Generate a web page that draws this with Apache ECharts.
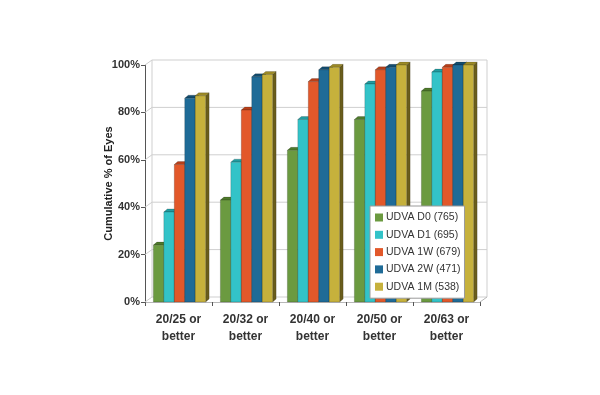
<!DOCTYPE html>
<html>
<head>
<meta charset="utf-8">
<script src="https://cdn.jsdelivr.net/npm/echarts@6/dist/echarts.min.js"></script>
<style>html,body{margin:0;padding:0;background:#fff;}#c{width:600px;height:395px;}</style>
</head>
<body>
<div id="c"></div>
<script>
var categories = ['20/25 or\nbetter', '20/32 or\nbetter', '20/40 or\nbetter', '20/50 or\nbetter', '20/63 or\nbetter'];
var seriesNames = ['UDVA D0 (765)', 'UDVA D1 (695)', 'UDVA 1W (679)', 'UDVA 2W (471)', 'UDVA 1M (538)'];
var d0 = [24, 43, 64, 77, 89];
var d1 = [38, 59, 77, 92, 97];
var w1 = [58, 81, 93, 98, 99];
var w2 = [86, 95, 98, 99, 100];
var m1 = [87, 96, 99, 100, 100];
var yTicks = [0, 20, 40, 60, 80, 100];

var colors = ['#6b9a40', '#33c3c8', '#e2582a', '#1f6b97', '#c6b13c'];
var tops = ['#4f7a2c', '#229ca0', '#b8401a', '#134d6f', '#9c8a26'];
var sides = ['#3e5a22', '#1a7073', '#7e2c12', '#0d3550', '#6a5d1c'];
var allData = [d0, d1, w1, w2, m1];
var DX = 3.5, DY = 3;

function barRender(si) {
  return function (params, api) {
    var cat = api.value(0), val = api.value(1);
    var catW = api.size([1, 0])[0];
    var bw = catW * 0.156;
    var c = api.coord([cat, val]);
    var b = api.coord([cat, 0]);
    var x0 = c[0] - 2.5 * bw + si * bw + 1;
    var yT = c[1], yB = b[1];
    var stroke = 'rgba(0,0,0,0.35)';
    return {
      type: 'group',
      children: [
        { type: 'polygon', shape: { points: [[x0 + bw, yT], [x0 + bw + DX, yT - DY], [x0 + bw + DX, yB - DY], [x0 + bw, yB]] },
          style: { fill: sides[si], stroke: stroke, lineWidth: 0.5 } },
        { type: 'polygon', shape: { points: [[x0, yT], [x0 + bw, yT], [x0 + bw + DX, yT - DY], [x0 + DX, yT - DY]] },
          style: { fill: tops[si], stroke: stroke, lineWidth: 0.5 } },
        { type: 'rect', shape: { x: x0, y: yT, width: bw, height: yB - yT },
          style: { fill: colors[si], stroke: stroke, lineWidth: 0.5 } }
      ]
    };
  };
}

var WX = 7, WY = 5;
function wallRender(params, api) {
  var v = api.value(0);
  var cs = params.coordSys;
  var p = api.coord([0, v]);
  var y = p[1];
  var left = cs.x, right = cs.x + cs.width;
  var children = [
    { type: 'polyline', shape: { points: [[left, y], [left + WX, y - WY], [right + WX, y - WY]] },
      style: { stroke: '#cfcfcf', lineWidth: 1, fill: null } }
  ];
  if (v === 0) {
    children.push({ type: 'line', shape: { x1: left + WX, y1: y - WY, x2: left + WX, y2: cs.y - WY }, style: { stroke: '#cfcfcf', lineWidth: 1 } });
    children.push({ type: 'line', shape: { x1: right + WX, y1: y - WY, x2: right + WX, y2: cs.y - WY }, style: { stroke: '#cfcfcf', lineWidth: 1 } });
    children.push({ type: 'line', shape: { x1: right, y1: y, x2: right + WX, y2: y - WY }, style: { stroke: '#b8b8b8', lineWidth: 1 } });
  }
  return { type: 'group', children: children };
}

var series = [{
  name: 'wall', type: 'custom', renderItem: wallRender, silent: true, z: 1,
  data: yTicks.map(function (v) { return [v]; }), encode: { y: 0 }
}];
for (var i = 0; i < 5; i++) {
  series.push({
    name: seriesNames[i], type: 'custom', renderItem: barRender(i), z: 2 + i,
    itemStyle: { color: colors[i] },
    data: allData[i].map(function (v, k) { return [k, v]; }),
    encode: { x: 0, y: 1 }
  });
}

var chart = echarts.init(document.getElementById('c'), null, { renderer: 'canvas' });
chart.setOption({
  animation: false,
  backgroundColor: '#fff',
  textStyle: { fontFamily: 'Liberation Sans, Arial, sans-serif' },
  grid: { left: 145, right: 120, top: 65, bottom: 93 },
  legend: {
    data: seriesNames, orient: 'vertical', left: 370, top: 206,
    backgroundColor: '#fff', borderColor: '#9a9a9a', borderWidth: 1,
    padding: [5, 4, 5, 5], itemWidth: 8, itemHeight: 8, itemGap: 4.3,
    icon: 'rect', z: 20,
    textStyle: { fontSize: 10.5, color: '#333', lineHeight: 13, padding: [0, 0, 0, -2] }
  },
  xAxis: {
    type: 'category', data: categories, boundaryGap: true,
    axisLine: { lineStyle: { color: '#b8b8b8', width: 1 } },
    axisTick: { show: true, interval: 0, length: 4, lineStyle: { color: '#555' } },
    axisLabel: { interval: 0, fontWeight: 'bold', fontSize: 12, color: '#333', lineHeight: 17, margin: 9 }
  },
  yAxis: {
    type: 'value', min: 0, max: 100, interval: 20,
    name: 'Cumulative % of Eyes', nameLocation: 'middle', nameGap: 31, nameMoveOverlap: false,
    nameTextStyle: { fontWeight: 'bold', fontSize: 11, color: '#222' },
    axisLine: { show: true, lineStyle: { color: '#555' } },
    axisTick: { show: true, length: 4, lineStyle: { color: '#555' } },
    splitLine: { show: false },
    axisLabel: { formatter: '{value}%', fontWeight: 'bold', fontSize: 11, color: '#333', margin: 5 }
  },
  series: series
});
</script>
</body>
</html>
